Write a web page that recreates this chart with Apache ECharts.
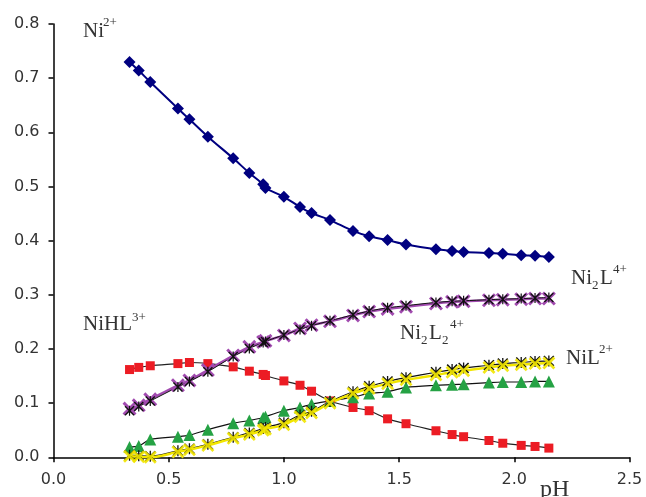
<!DOCTYPE html>
<html>
<head>
<meta charset="utf-8">
<script src="https://cdn.jsdelivr.net/npm/echarts@6/dist/echarts.min.js"></script>
<style>
  html, body { margin: 0; padding: 0; background: #fff; }
  #chart { width: 646px; height: 497px; }
</style>
</head>
<body>
<div id="chart"></div>
<script>
// pH values shared by all species
const pH = [0.33, 0.37, 0.42, 0.54, 0.59, 0.67, 0.78, 0.85, 0.91, 0.92, 1.00, 1.07, 1.12,
            1.20, 1.30, 1.37, 1.45, 1.53, 1.66, 1.73, 1.78, 1.89, 1.95, 2.03, 2.09, 2.15];

// species fractions
const ni = [0.730, 0.714, 0.693, 0.644, 0.624, 0.592, 0.552, 0.525, 0.504, 0.497, 0.481, 0.462, 0.451,
            0.438, 0.418, 0.408, 0.401, 0.393, 0.384, 0.381, 0.379, 0.377, 0.376, 0.373, 0.372, 0.370];
const nihl = [0.162, 0.166, 0.169, 0.173, 0.175, 0.173, 0.167, 0.159, 0.153, 0.151, 0.141, 0.133, 0.122,
              0.104, 0.092, 0.086, 0.071, 0.062, 0.049, 0.042, 0.038, 0.031, 0.026, 0.022, 0.020, 0.017];
const ni2l = [0.090, 0.096, 0.107, 0.133, 0.142, 0.161, 0.188, 0.204, 0.213, 0.215, 0.225, 0.238, 0.244,
              0.251, 0.262, 0.269, 0.274, 0.278, 0.284, 0.287, 0.288, 0.290, 0.291, 0.292, 0.293, 0.293];
const ni2lCalc = [0.086, 0.094, 0.104, 0.130, 0.140, 0.158, 0.186, 0.201, 0.212, 0.214, 0.226, 0.236, 0.243,
                  0.252, 0.263, 0.270, 0.276, 0.280, 0.286, 0.288, 0.289, 0.291, 0.292, 0.293, 0.294, 0.295];
const ni2l2 = [0.019, 0.021, 0.033, 0.038, 0.041, 0.051, 0.063, 0.068, 0.073, 0.075, 0.086, 0.092, 0.098,
               0.104, 0.111, 0.118, 0.121, 0.129, 0.133, 0.134, 0.135, 0.138, 0.139, 0.139, 0.140, 0.140];
const nil = [0.002, 0.001, 0.000, 0.010, 0.014, 0.022, 0.035, 0.042, 0.050, 0.052, 0.060, 0.075, 0.082,
             0.100, 0.118, 0.127, 0.136, 0.143, 0.152, 0.157, 0.160, 0.166, 0.169, 0.171, 0.173, 0.174];
const nilCalc = [0.004, 0.003, 0.002, 0.012, 0.016, 0.024, 0.037, 0.045, 0.053, 0.055, 0.064, 0.078, 0.085,
                 0.103, 0.121, 0.131, 0.140, 0.147, 0.157, 0.162, 0.165, 0.170, 0.173, 0.175, 0.177, 0.178];

const xTicks = [0, 2.5, 0.5];   // min, max, interval
const yTicks = [0, 0.8, 0.1];

const crossSym = 'path://M0,1.5L1.5,0L5,3.5L8.5,0L10,1.5L6.5,5L10,8.5L8.5,10L5,6.5L1.5,10L0,8.5L3.5,5Z';
const starSym = 'path://M0,1L1,0L5,4L9,0L10,1L6,5L10,9L9,10L5,6L1,10L0,9L4,5Z M4.4,0L5.6,0L5.6,10L4.4,10Z';

const pts = arr => pH.map((x, i) => [x, arr[i]]);

const chart = echarts.init(document.getElementById('chart'), null, { renderer: 'canvas' });

const serif = '"Liberation Serif", "Times New Roman", serif';
const sans = '"DejaVu Sans", Arial, sans-serif';

// species labels: big text pieces plus small super/subscripts
const txt = (text, left, top, size) => ({
  type: 'text', left, top, z: 100,
  style: { text, fontFamily: serif, fontSize: size || 21, fill: '#333' }
});
const sm = (text, left, top) => txt(text, left, top, 13);

const option = {
  backgroundColor: '#fff',
  animation: false,
  grid: { left: 53.5, right: 16.5, top: 24, bottom: 39.7 },
  xAxis: {
    type: 'value',
    min: xTicks[0], max: xTicks[1], interval: xTicks[2],
    axisLine: { lineStyle: { color: '#000', width: 1.5 } },
    axisTick: { show: true, inside: false, length: 5, lineStyle: { color: '#000', width: 1.5 } },
    axisLabel: { margin: 15, color: '#333', fontFamily: sans, fontSize: 16,
                 formatter: v => v.toFixed(1) },
    splitLine: { show: false }
  },
  yAxis: {
    type: 'value',
    min: yTicks[0], max: yTicks[1], interval: yTicks[2],
    axisLine: { show: true, lineStyle: { color: '#000', width: 1.5 } },
    axisTick: { show: true, inside: false, length: 5, lineStyle: { color: '#000', width: 1.5 } },
    axisLabel: { margin: 14, color: '#333', fontFamily: sans, fontSize: 16,
                 formatter: v => v.toFixed(1) },
    splitLine: { show: false }
  },
  series: [
    {
      name: 'Ni2+', type: 'line', data: pts(ni), smooth: 0.3,
      symbol: 'diamond', symbolSize: 12,
      itemStyle: { color: '#000080' }, lineStyle: { color: '#000080', width: 2 }
    },
    {
      name: 'NiHL3+', type: 'line', data: pts(nihl), smooth: 0.3,
      symbol: 'rect', symbolSize: 9,
      itemStyle: { color: '#ec1c24' }, lineStyle: { color: '#222', width: 1.2 }
    },
    {
      name: 'Ni2L4+', type: 'line', data: pts(ni2l), smooth: 0.3,
      symbol: crossSym, symbolSize: 14,
      itemStyle: { color: '#a24bb0' }, lineStyle: { color: '#a24bb0', width: 2.5 }
    },
    {
      name: 'Ni2L4+ calc', type: 'line', data: pts(ni2lCalc), smooth: 0.3,
      symbol: starSym, symbolSize: 10,
      itemStyle: { color: '#111' }, lineStyle: { color: '#111', width: 1 }
    },
    {
      name: 'Ni2L24+', type: 'line', data: pts(ni2l2), smooth: 0.3,
      symbol: 'triangle', symbolSize: 12,
      itemStyle: { color: '#25a244' }, lineStyle: { color: '#111', width: 1.2 }
    },
    {
      name: 'NiL2+ calc', type: 'line', data: pts(nilCalc), smooth: 0.3,
      symbol: starSym, symbolSize: 11,
      itemStyle: { color: '#111' }, lineStyle: { color: '#111', width: 1.2 }
    },
    {
      name: 'NiL2+', type: 'line', data: pts(nil), smooth: 0.3,
      symbol: crossSym, symbolSize: 13,
      itemStyle: { color: '#f2e600', opacity: 0.9 }, lineStyle: { color: '#f2e600', width: 2.5 }
    }
  ],
  graphic: [
    txt('Ni', 83, 21), sm('2+', 103, 16),
    txt('NiHL', 83, 314), sm('3+', 132, 311),
    txt('Ni', 571, 268), sm('2', 592, 279), txt('L', 600, 268), sm('4+', 613, 263),
    txt('Ni', 400, 323), sm('2', 421, 334), txt('L', 429, 323), sm('2', 442, 334), sm('4+', 450, 318),
    txt('NiL', 566, 348), sm('2+', 599, 343),
    txt('pH', 540, 478, 24)
  ]
};

chart.setOption(option);
</script>
</body>
</html>
